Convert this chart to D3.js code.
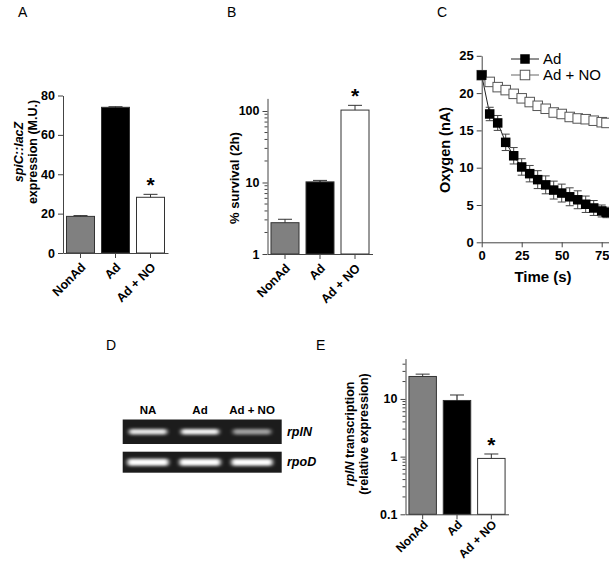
<!DOCTYPE html>
<html><head><meta charset="utf-8">
<script src="https://cdn.jsdelivr.net/npm/d3@7"></script>
<style>body{margin:0;background:#fff}svg{display:block}text{font-family:"Liberation Sans",Arial,sans-serif}</style>
</head><body>
<script>
// ---- data ----
const categories = ["NonAd", "Ad", "Ad + NO"];
const spiCValues = [18.6, 74.0, 28.3];
const spiCErrors = [0.4, 0.3, 1.5];
const survivalValues = [2.74, 10.2, 103];
const survivalErrors = [0.32, 0.5, 17];
const rplNValues = [24.5, 9.4, 0.93];
const rplNErrors = [2.4, 2.3, 0.18];
const timeSeconds = [0, 5, 10, 15, 20, 25, 30, 35, 40, 45, 50, 55, 60, 65, 70, 75, 78];
const oxygenAd = [22.4, 17.2, 16.0, 13.4, 11.6, 10.1, 9.2, 8.4, 7.7, 7.0, 6.6, 6.1, 5.7, 5.1, 4.6, 4.2, 4.0];
const oxygenAdErr = [0, 0.9, 1.0, 1.1, 1.1, 1.1, 1.1, 1.2, 1.2, 1.2, 1.2, 1.2, 1.2, 1.1, 1.0, 0.8, 0.7];
const oxygenAdNO = [22.4, 21.5, 20.8, 20.4, 19.9, 19.3, 18.8, 18.3, 17.9, 17.4, 17.2, 16.8, 16.6, 16.5, 16.3, 16.1, 16.0];
const seriesNames = ["Ad", "Ad + NO"];
const cTicksY = [0, 5, 10, 15, 20, 25];
const cTicksX = [0, 25, 50, 75];
const gelLanes = ["NA", "Ad", "Ad + NO"];
const gelGenes = ["rplN", "rpoD"];
const rplNBand = [0.95, 1.0, 0.62];
const rpoDBand = [1.0, 1.0, 1.0];
const barFills = ["#808080", "#000000", "#ffffff"];

const W = 609, H = 564;
const svg = d3.select("body").append("svg").attr("width", W).attr("height", H);
svg.append("rect").attr("width", W).attr("height", H).attr("fill", "#fff");
const AX = "#444";
const FONT = '"Liberation Sans",Arial,sans-serif';

[["A",18,17],["B",227,17],["C",437,17],["D",106,350],["E",316,350]].forEach(([t,x,y]) =>
  svg.append("text").attr("x",x).attr("y",y).attr("font-size",14).text(t));

function barPanel(opt){
  const g = svg.append("g");
  const x = d3.scaleBand().domain(categories).range(opt.xr).paddingInner(0.2).paddingOuter(0.1);
  const y = opt.y;
  const base = y.range()[0];
  g.selectAll("rect.bar").data(categories).join("rect")
    .attr("x", d => x(d)).attr("width", x.bandwidth())
    .attr("y", (d,i) => y(opt.values[i])).attr("height", (d,i) => base - y(opt.values[i]))
    .attr("fill", (d,i) => barFills[i]).attr("stroke", "#333").attr("stroke-width", 1);
  categories.forEach((d,i) => {
    const cx = x(d) + x.bandwidth()/2;
    const top = y(opt.values[i] + opt.errors[i]);
    g.append("line").attr("x1",cx).attr("x2",cx).attr("y1",y(opt.values[i])).attr("y2",top).attr("stroke", i===1?"#000":"#333");
    g.append("line").attr("x1",cx-7).attr("x2",cx+7).attr("y1",top).attr("y2",top).attr("stroke","#333");
  });
  const ya = d3.axisLeft(y).tickValues(opt.ticks).tickFormat(opt.fmt).tickSize(5).tickSizeOuter(0);
  const yg = g.append("g").attr("transform", `translate(${opt.xr[0]},0)`).call(ya);
  yg.select(".domain").attr("stroke", AX);
  yg.selectAll(".tick line").attr("stroke", AX);
  yg.selectAll("text").attr("font-family", FONT).attr("font-size", 12.5).attr("font-weight","bold").attr("fill","#000");
  if (opt.minor){
    g.selectAll("line.minor").data(opt.minor).join("line")
      .attr("x1", opt.xr[0]-3).attr("x2", opt.xr[0]).attr("y1", d=>y(d)).attr("y2", d=>y(d)).attr("stroke", AX);
  }
  const xa = d3.axisBottom(x).tickSize(5).tickSizeOuter(0);
  const xg = g.append("g").attr("transform", `translate(0,${base})`).call(xa);
  xg.select(".domain").attr("stroke", AX);
  xg.selectAll(".tick line").attr("stroke", AX);
  xg.selectAll("text").attr("font-family", FONT).attr("font-size", opt.lfs).attr("font-weight","bold").attr("fill","#000")
    .attr("text-anchor","end").attr("dy", null).attr("y", 0).attr("x", 0)
    .attr("transform",`translate(6,${opt.ldy}) rotate(-45)`);
  const ci = 2;
  g.append("text").attr("x", x(categories[ci]) + x.bandwidth()/2).attr("y", y(opt.values[ci]+opt.errors[ci]) - 2)
    .attr("text-anchor","middle").attr("font-size", 21).attr("font-weight","bold").text("*");
  return g;
}

// Panel A
barPanel({xr:[63,168], y:d3.scaleLinear().domain([0,80]).range([253,95.5]), ldy:15, lfs:12.5,
  values:spiCValues, errors:spiCErrors, ticks:[0,20,40,60,80], fmt:d3.format("d")});
const tA = svg.append("text").attr("transform","translate(29,152) rotate(-90)").attr("text-anchor","middle")
  .attr("font-size",12.5).attr("font-weight","bold");
tA.append("tspan").attr("x",0).attr("dy",-6).attr("font-style","italic").text("spiC::lacZ");
tA.append("tspan").attr("x",0).attr("dy",14).text("expression (M.U.)");

// Panel B
const minorB = [2,3,4,5,6,7,8,9,20,30,40,50,60,70,80,90];
barPanel({xr:[267.5,372.5], y:d3.scaleLog().domain([1,150]).range([254,98.4]), ldy:15, lfs:12.5,
  values:survivalValues, errors:survivalErrors, ticks:[1,10,100], fmt:d3.format("d"), minor:minorB});
svg.append("text").attr("transform","translate(239,178) rotate(-90)").attr("text-anchor","middle")
  .attr("font-size",13).attr("font-weight","bold").text("% survival (2h)");

// Panel E
const minorE = [0.2,0.3,0.4,0.5,0.6,0.7,0.8,0.9,2,3,4,5,6,7,8,9,20,30,40];
barPanel({xr:[405.5,508.5], y:d3.scaleLog().domain([0.1,50]).range([514.3,358.6]), ldy:11, lfs:12,
  values:rplNValues, errors:rplNErrors, ticks:[0.1,1,10], fmt:d => d>=1 ? d3.format("d")(d) : String(d), minor:minorE});
const tE = svg.append("text").attr("transform","translate(360,434) rotate(-90)").attr("text-anchor","middle")
  .attr("font-size",12.5).attr("font-weight","bold");
const tE1 = tE.append("tspan").attr("x",0).attr("dy",-6);
tE1.append("tspan").attr("font-style","italic").text("rplN");
tE1.append("tspan").text("  transcription");
tE.append("tspan").attr("x",0).attr("dy",14).text("(relative expression)");

// Panel C
const cx = d3.scaleLinear().domain([0,80]).range([481.7,609.7]);
const cy = d3.scaleLinear().domain([0,25]).range([242.3,55.8]);
const gC = svg.append("g");
const yaC = gC.append("g").attr("transform","translate(481.7,0)").call(d3.axisLeft(cy).tickValues(cTicksY).tickSize(5).tickSizeOuter(0));
const xaC = gC.append("g").attr("transform","translate(0,242.3)").call(d3.axisBottom(cx).tickValues(cTicksX).tickSize(5).tickSizeOuter(0));
[yaC, xaC].forEach(a => {
  a.select(".domain").attr("stroke", AX);
  a.selectAll(".tick line").attr("stroke", AX);
  a.selectAll("text").attr("font-family",FONT).attr("font-size",13).attr("font-weight","bold").attr("fill","#000");
});
gC.append("text").attr("x",543).attr("y",282).attr("text-anchor","middle").attr("font-size",15).attr("font-weight","bold").text("Time (s)");
gC.append("text").attr("transform","translate(450,150) rotate(-90)").attr("text-anchor","middle").attr("font-size",14.5).attr("font-weight","bold").text("Oxygen (nA)");
const line = d3.line().x((d,i)=>cx(timeSeconds[i])).y(d=>cy(d));
gC.append("path").attr("d", line(oxygenAdNO)).attr("fill","none").attr("stroke","#666").attr("stroke-width",1);
gC.append("path").attr("d", line(oxygenAd)).attr("fill","none").attr("stroke","#222").attr("stroke-width",1);
timeSeconds.forEach((t,i) => {
  if (!oxygenAdErr[i]) return;
  const x0 = cx(t), y1 = cy(oxygenAd[i]-oxygenAdErr[i]), y2 = cy(oxygenAd[i]+oxygenAdErr[i]);
  gC.append("line").attr("x1",x0).attr("x2",x0).attr("y1",y1).attr("y2",y2).attr("stroke","#444");
  [y1,y2].forEach(yy => gC.append("line").attr("x1",x0-4).attr("x2",x0+4).attr("y1",yy).attr("y2",yy).attr("stroke","#444"));
});
const S = 9.5;
gC.selectAll("rect.no").data(oxygenAdNO).join("rect").attr("class","no")
  .attr("x",(d,i)=>cx(timeSeconds[i])-S/2).attr("y",d=>cy(d)-S/2).attr("width",S).attr("height",S)
  .attr("fill","#fff").attr("stroke","#555").attr("stroke-width",1);
gC.selectAll("rect.ad").data(oxygenAd).join("rect").attr("class","ad")
  .attr("x",(d,i)=>cx(timeSeconds[i])-S/2).attr("y",d=>cy(d)-S/2).attr("width",S).attr("height",S)
  .attr("fill","#000");
seriesNames.forEach((n,i) => {
  const ly = 59 + i*16;
  gC.append("line").attr("x1",511).attr("x2",539).attr("y1",ly).attr("y2",ly).attr("stroke", i?"#666":"#222");
  gC.append("rect").attr("x",525-S/2).attr("y",ly-S/2).attr("width",S).attr("height",S)
    .attr("fill", i?"#fff":"#000").attr("stroke", i?"#555":"none");
  gC.append("text").attr("x",543).attr("y",ly+5).attr("font-size",15).text(n);
});

// Panel D gel
const defs = svg.append("defs");
defs.append("filter").attr("id","blur").attr("x","-30%").attr("y","-100%").attr("width","160%").attr("height","300%")
  .append("feGaussianBlur").attr("stdDeviation","2.2 1.6");
const lx = d3.scalePoint().domain(gelLanes).range([148,252]);
const gD = svg.append("g");
gelLanes.forEach(l => gD.append("text").attr("x",lx(l)).attr("y",414).attr("text-anchor","middle")
  .attr("font-size",11.5).attr("font-weight","bold").text(l));
const gels = [{gene:gelGenes[0], y0:419.5, h:24.5, bands:rplNBand, bw:38, bh:5.5, col:"#f6f6f6"},
              {gene:gelGenes[1], y0:451.7, h:21, bands:rpoDBand, bw:41, bh:7, col:"#ffffff"}];
gels.forEach(G => {
  gD.append("rect").attr("x",122.7).attr("y",G.y0).attr("width",159).attr("height",G.h).attr("fill","#1c1c1c");
  gelLanes.forEach((l,i) => {
    gD.append("rect").attr("x",lx(l)-G.bw/2).attr("y",G.y0+G.h/2-G.bh/2).attr("width",G.bw).attr("height",G.bh)
      .attr("rx",2).attr("fill",G.col).attr("opacity",G.bands[i]).attr("filter","url(#blur)");
  });
  gD.append("text").attr("x",287).attr("y",G.y0+G.h/2+4).attr("font-size",12.5).attr("font-weight","bold")
    .attr("font-style","italic").text(G.gene);
});
</script>
</body></html>
